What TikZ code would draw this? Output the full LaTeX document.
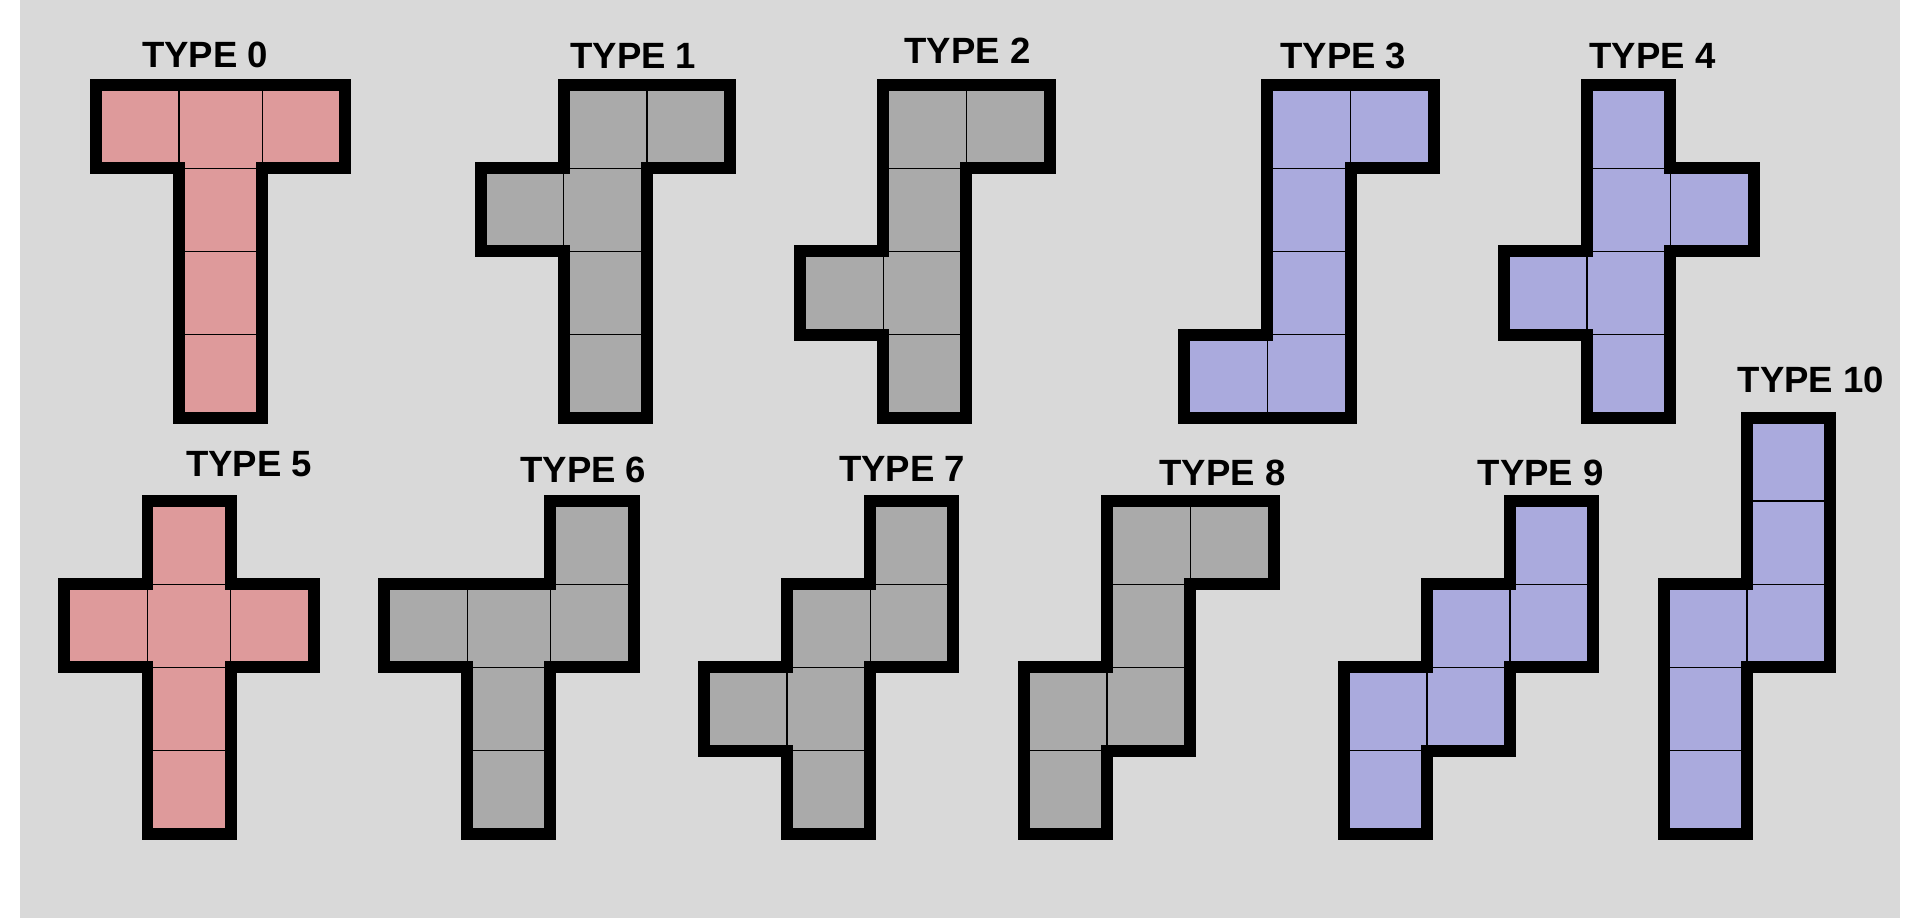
\documentclass[tikz,border=0pt]{standalone}
\usepackage{fontspec}
\setmainfont{Liberation Sans}

\definecolor{bgGray}{HTML}{D9D9D9}
\definecolor{pinkFill}{HTML}{DE9A9B}
\definecolor{greyFill}{HTML}{AAAAAA}
\definecolor{blueFill}{HTML}{AAAADD}

\begin{document}
\begin{tikzpicture}[x=0.012019cm, y=-0.012019cm,
  cell/.style={draw=black, line width=0.45pt},
  pinkCell/.style={cell, fill=pinkFill},
  greyCell/.style={cell, fill=greyFill},
  blueCell/.style={cell, fill=blueFill},
  outline/.style={draw=black, line width=4.1pt, line join=miter},
  title/.style={font=\fontsize{12.5}{14}\selectfont\bfseries, inner sep=0pt}
]
\useasboundingbox (0,0) rectangle (1920,918);
\fill[white] (0,0) rectangle (1920,918);
\fill[bgGray] (20,0) rectangle (1900,918);

% top row
\node[title] (t0) at (205.2,55) {TYPE 0};
\begin{scope}[shift={(95.8,85)}, scale=83.2]
  \foreach \c/\r in {0/0,1/0,2/0,1/1,1/2,1/3} \path[pinkCell] (\c,\r) rectangle ++(1,1);
  \draw[outline] (0,0) -- (3,0) -- (3,1) -- (2,1) -- (2,4) -- (1,4) -- (1,1) -- (0,1) -- cycle;
\end{scope}

\node[title] (t1) at (633.3,55.8) {TYPE 1};
\begin{scope}[shift={(480.5,85)}, scale=83.2]
  \foreach \c/\r in {1/0,2/0,0/1,1/1,1/2,1/3} \path[greyCell] (\c,\r) rectangle ++(1,1);
  \draw[outline] (1,0) -- (3,0) -- (3,1) -- (2,1) -- (2,4) -- (1,4) -- (1,2) -- (0,2) -- (0,1) -- (1,1) -- cycle;
\end{scope}

\node[title] (t2) at (967.5,50.7) {TYPE 2};
\begin{scope}[shift={(800,85)}, scale=83.2]
  \foreach \c/\r in {1/0,2/0,1/1,0/2,1/2,1/3} \path[greyCell] (\c,\r) rectangle ++(1,1);
  \draw[outline] (1,0) -- (3,0) -- (3,1) -- (2,1) -- (2,4) -- (1,4) -- (1,3) -- (0,3) -- (0,2) -- (1,2) -- cycle;
\end{scope}

\node[title] (t3) at (1343.3,55.5) {TYPE 3};
\begin{scope}[shift={(1184.2,85)}, scale=83.2]
  \foreach \c/\r in {1/0,2/0,1/1,1/2,0/3,1/3} \path[blueCell] (\c,\r) rectangle ++(1,1);
  \draw[outline] (1,0) -- (3,0) -- (3,1) -- (2,1) -- (2,4) -- (0,4) -- (0,3) -- (1,3) -- cycle;
\end{scope}

\node[title] (t4) at (1652.5,55.5) {TYPE 4};
\begin{scope}[shift={(1503.9,85)}, scale=83.2]
  \foreach \c/\r in {1/0,1/1,2/1,0/2,1/2,1/3} \path[blueCell] (\c,\r) rectangle ++(1,1);
  \draw[outline] (1,0) -- (2,0) -- (2,1) -- (3,1) -- (3,2) -- (2,2) -- (2,4) -- (1,4) -- (1,3) -- (0,3) -- (0,2) -- (1,2) -- cycle;
\end{scope}

% bottom row
\node[title] (t5) at (249.2,464.2) {TYPE 5};
\begin{scope}[shift={(64.3,501)}, scale=83.2]
  \foreach \c/\r in {1/0,0/1,1/1,2/1,1/2,1/3} \path[pinkCell] (\c,\r) rectangle ++(1,1);
  \draw[outline] (1,0) -- (2,0) -- (2,1) -- (3,1) -- (3,2) -- (2,2) -- (2,4) -- (1,4) -- (1,2) -- (0,2) -- (0,1) -- (1,1) -- cycle;
\end{scope}

\node[title] (t6) at (583.3,469.7) {TYPE 6};
\begin{scope}[shift={(384,501)}, scale=83.2]
  \foreach \c/\r in {2/0,0/1,1/1,2/1,1/2,1/3} \path[greyCell] (\c,\r) rectangle ++(1,1);
  \draw[outline] (2,0) -- (3,0) -- (3,2) -- (2,2) -- (2,4) -- (1,4) -- (1,2) -- (0,2) -- (0,1) -- (2,1) -- cycle;
\end{scope}

\node[title] (t7) at (902,469.3) {TYPE 7};
\begin{scope}[shift={(703.8,501)}, scale=83.2]
  \foreach \c/\r in {2/0,1/1,2/1,0/2,1/2,1/3} \path[greyCell] (\c,\r) rectangle ++(1,1);
  \draw[outline] (2,0) -- (3,0) -- (3,2) -- (2,2) -- (2,4) -- (1,4) -- (1,3) -- (0,3) -- (0,2) -- (1,2) -- (1,1) -- (2,1) -- cycle;
\end{scope}

\node[title] (t8) at (1222.5,472.7) {TYPE 8};
\begin{scope}[shift={(1023.9,501)}, scale=83.2]
  \foreach \c/\r in {1/0,2/0,1/1,0/2,1/2,0/3} \path[greyCell] (\c,\r) rectangle ++(1,1);
  \draw[outline] (1,0) -- (3,0) -- (3,1) -- (2,1) -- (2,3) -- (1,3) -- (1,4) -- (0,4) -- (0,2) -- (1,2) -- cycle;
\end{scope}

\node[title] (t9) at (1540.8,472.7) {TYPE 9};
\begin{scope}[shift={(1343.7,501)}, scale=83.2]
  \foreach \c/\r in {2/0,1/1,2/1,0/2,1/2,0/3} \path[blueCell] (\c,\r) rectangle ++(1,1);
  \draw[outline] (2,0) -- (3,0) -- (3,2) -- (2,2) -- (2,3) -- (1,3) -- (1,4) -- (0,4) -- (0,2) -- (1,2) -- (1,1) -- (2,1) -- cycle;
\end{scope}

\node[title] (t10) at (1810.8,380) {TYPE 10};
\begin{scope}[shift={(1663.8,417.8)}, scale=83.2]
  \foreach \c/\r in {1/0,1/1,1/2,0/2,0/3,0/4} \path[blueCell] (\c,\r) rectangle ++(1,1);
  \draw[outline] (1,0) -- (2,0) -- (2,3) -- (1,3) -- (1,5) -- (0,5) -- (0,2) -- (1,2) -- cycle;
\end{scope}
\end{tikzpicture}
\end{document}
